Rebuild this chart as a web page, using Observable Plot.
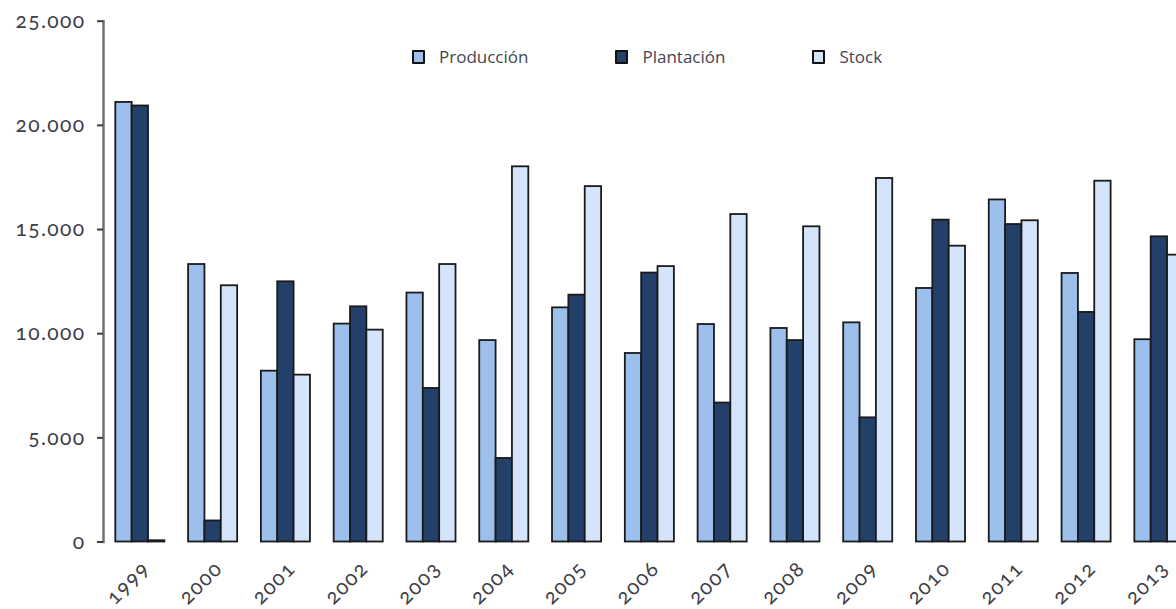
<!DOCTYPE html>
<html>
<head>
<meta charset="utf-8">
<script src="https://cdn.jsdelivr.net/npm/d3@7"></script>
<script src="https://cdn.jsdelivr.net/npm/@observablehq/plot@0.6"></script>
<style>
  html, body { margin: 0; padding: 0; background: #fff; overflow: hidden; width: 1176px; height: 609px; }
  #wrap { position: relative; width: 1176px; height: 609px; }
  #chart svg { display: block; }
  #chart text { font-feature-settings: "onum" 1; letter-spacing: 1.4px; }
  #legend { position: absolute; left: 412px; top: 47px; display: flex; gap: 87px; font-family: "Open Sans", sans-serif; font-size: 17px; color: #45454f; }
  .item { display: flex; align-items: center; gap: 14px; line-height: 20px; }
  .sw { width: 9px; height: 10px; border: 2px solid #111; border-radius: 1px; }
</style>
</head>
<body>
<div id="wrap">
  <div id="chart"></div>
  <div id="legend"></div>
</div>
<script>
const years = ["1999","2000","2001","2002","2003","2004","2005","2006","2007","2008","2009","2010","2011","2012","2013"];
const produccion = [21100, 13320, 8200, 10460, 11950, 9670, 11240, 9050, 10440, 10250, 10520, 12170, 16420, 12890, 9710];
const plantacion = [20930, 1010, 12490, 11290, 7370, 4010, 11850, 12910, 6670, 9670, 5960, 15450, 15240, 11020, 14650];
const stock = [60, 12300, 8010, 10170, 13320, 18010, 17060, 13220, 15720, 15130, 17450, 14200, 15420, 17320, 13770];
const seriesNames = ["Producción", "Plantación", "Stock"];
const seriesColors = ["#9cbfec", "#22406a", "#d4e4fb"];
const yTicks = [0, 5000, 10000, 15000, 20000, 25000];

const seriesValues = [produccion, plantacion, stock];
const fmt = d3.formatLocale({thousands: ".", decimal: ",", grouping: [3], currency: ["", ""]}).format(",");
const bw = 16.35;

const bars = seriesValues.map((vals, i) =>
  Plot.barY(years.map((yr, j) => ({year: yr, value: vals[j], serie: seriesNames[i]})), {
    x: "year", y: "value", fill: seriesColors[i], stroke: "#1a1a1a", strokeWidth: 1.8,
    insetLeft: i * bw, insetRight: (2 - i) * bw
  })
);

const chart = Plot.plot({
  width: 1176, height: 609,
  marginTop: 20.7, marginBottom: 67.5, marginLeft: 103, marginRight: 0,
  x: {domain: years, range: [103, 1195.7], paddingInner: 0.326, paddingOuter: 0.169, round: false, axis: null},
  y: {domain: [0, 25000], axis: null, label: null},
  style: {fontFamily: "Lato, 'Open Sans', sans-serif", fontSize: "21px", color: "#3d3d48", background: "transparent"},
  marks: [
    ...bars,
    Plot.frame({anchor: "left", stroke: "#707070", strokeWidth: 2.5}),
    Plot.axisY({ticks: yTicks, tickFormat: fmt, tickSize: 6, tickPadding: 12, strokeWidth: 2, label: null}),
    Plot.text(years, {x: d => d, frameAnchor: "bottom", rotate: -45, textAnchor: "end", lineAnchor: "middle", dx: 6, dy: 23})
  ]
});
document.getElementById("chart").appendChild(chart);

const legend = document.getElementById("legend");
seriesNames.forEach((name, i) => {
  const item = document.createElement("div");
  item.className = "item";
  const sw = document.createElement("span");
  sw.className = "sw";
  sw.style.background = seriesColors[i];
  const label = document.createElement("span");
  label.textContent = name;
  item.appendChild(sw);
  item.appendChild(label);
  legend.appendChild(item);
});
</script>
</body>
</html>
